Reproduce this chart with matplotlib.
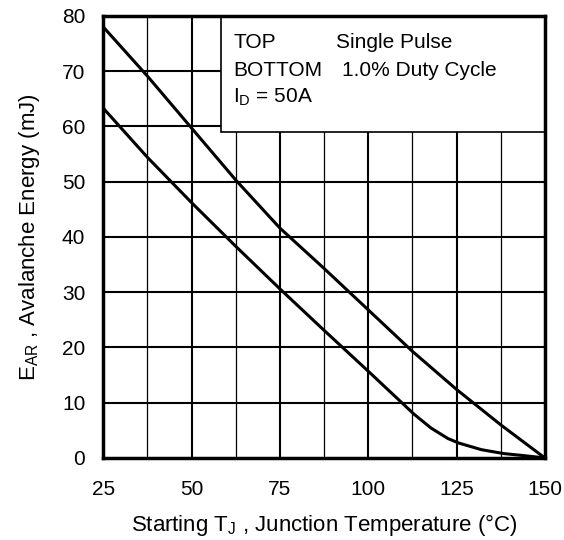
import matplotlib
matplotlib.use('Agg')
import matplotlib.pyplot as plt
from matplotlib.patches import Rectangle

plt.rcParams['font.family'] = ['Liberation Sans', 'DejaVu Sans']
plt.rcParams['mathtext.default'] = 'regular'

# data
temp_top = [25, 37.5, 50, 62.5, 75, 87.5, 100, 112.5, 125, 137.5, 150]
e_single = [78, 69.1, 59.7, 50.3, 41.6, 34.3, 26.8, 19.3, 12.4, 6.0, 0]

temp_bot = [25, 37.5, 50, 62.5, 75, 87.5, 100, 106, 110, 113, 117.8,
            122.6, 125.6, 132, 138.2, 144.3, 150]
e_duty = [63.3, 54.4, 46.2, 38.3, 30.6, 23.1, 15.7, 12.1, 9.7, 7.9, 5.4,
          3.5, 2.7, 1.5, 0.8, 0.4, 0]

x_ticks = [25, 50, 75, 100, 125, 150]
y_ticks = [0, 10, 20, 30, 40, 50, 60, 70, 80]

fig = plt.figure(figsize=(5.64, 5.40), dpi=100)
ax = fig.add_axes([0.1832, 0.152, 0.7828, 0.8184])

# grid: major (thicker) and minor (thinner) vertical lines
for x in [37.5, 50, 62.5, 75, 87.5, 100, 112.5, 125, 137.5]:
    lw = 1.5 if x in x_ticks else 0.9
    ax.axvline(x, color='black', lw=lw, zorder=1)
for y in y_ticks[1:-1]:
    ax.axhline(y, color='black', lw=1.5, zorder=1)

ax.plot(temp_top, e_single, color='black', lw=2.2, zorder=3)
ax.plot(temp_bot, e_duty, color='black', lw=2.2, zorder=3)

ax.set_xlim(25, 150)
ax.set_ylim(0, 80)
ax.set_xticks(x_ticks)
ax.set_yticks(y_ticks)
ax.tick_params(length=0, labelsize=15, colors='black')
ax.tick_params(axis='x', pad=16)
ax.tick_params(axis='y', pad=13)
for s in ax.spines.values():
    s.set_linewidth(2.5)
    s.set_zorder(5)

# legend box
ax.add_patch(Rectangle((58.4, 59.0), 150 - 58.4, 21, facecolor='white',
                       edgecolor='black', lw=1.2, zorder=4))
fs = 15
ax.text(61.8, 75.2, 'TOP', fontsize=fs, va='center', zorder=6)
ax.text(90.8, 75.2, 'Single Pulse', fontsize=fs, va='center', zorder=6)
ax.text(61.8, 70.2, 'BOTTOM', fontsize=fs, va='center', zorder=6)
ax.text(92.5, 70.2, '1.0% Duty Cycle', fontsize=fs, va='center', zorder=6)
ax.text(61.8, 65.2, 'I$_D$ = 50A', fontsize=fs, va='center', zorder=6)

ax.set_xlabel('Starting T$_J$ , Junction Temperature (°C)', fontsize=16, labelpad=9)
ax.set_ylabel('E$_{AR}$ , Avalanche Energy (mJ)', fontsize=16, labelpad=14)

plt.savefig('out.png', dpi=100)
